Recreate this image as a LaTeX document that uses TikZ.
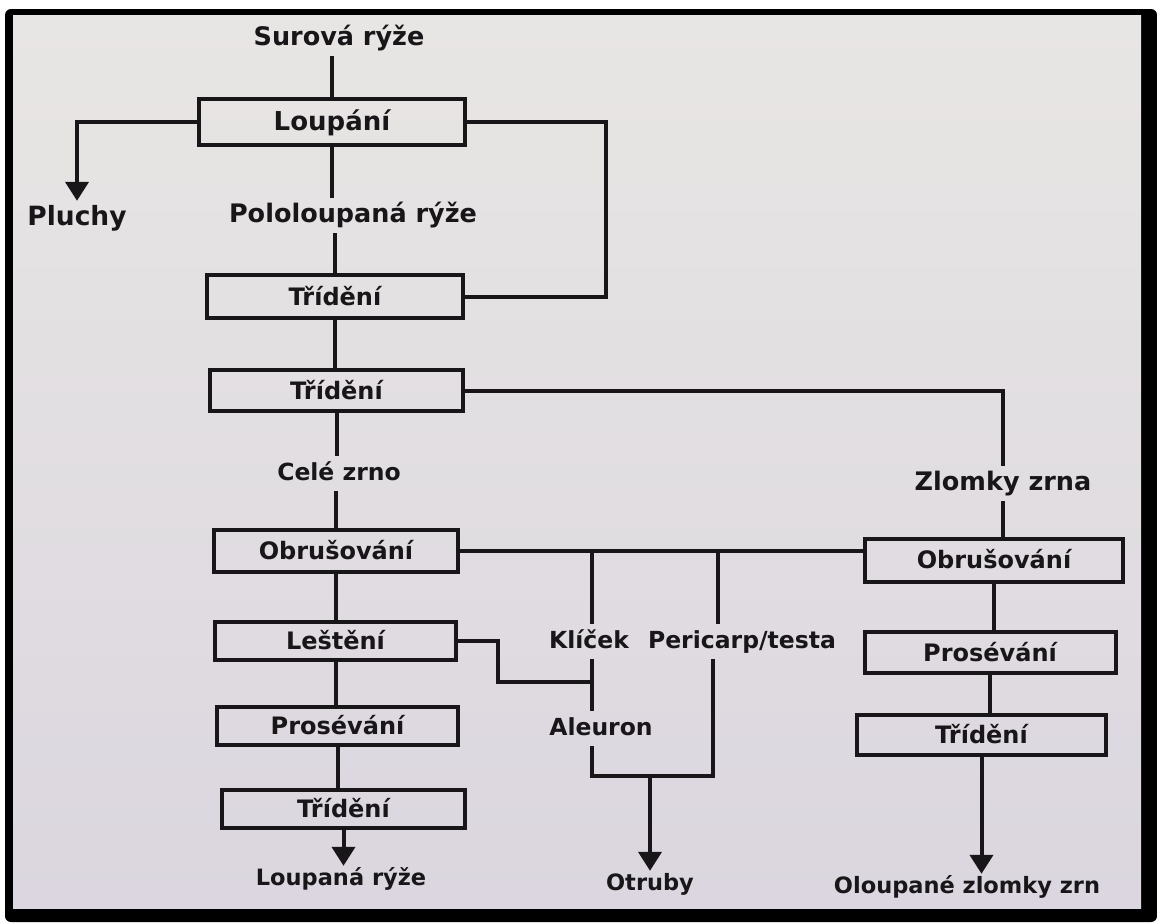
\documentclass[tikz,border=0pt]{standalone}
\usepackage{fontspec}
\setmainfont{DejaVu Sans}
\usetikzlibrary{arrows.meta}
\definecolor{ink}{RGB}{24,22,24}
\definecolor{bgtop}{RGB}{232,230,228}
\definecolor{bgbot}{RGB}{219,214,223}
\tikzset{
  ln/.style={draw=ink, line width=4pt},
  arr/.style={ln, -{Triangle[width=23pt,length=19pt]}},
  procbox/.style={draw=ink, line width=4pt, fill=none, text=ink, inner sep=0pt,
    font=\bfseries\fontsize{24}{27}\selectfont, text height=17.5pt, text depth=0pt},
  lbl/.style={text=ink, font=\bfseries\fontsize{25.5}{29}\selectfont,
    text height=18pt, text depth=5pt, inner xsep=2pt, inner ysep=6pt, anchor=base},
  smlbl/.style={lbl, font=\bfseries\fontsize{23.5}{27}\selectfont},
  endlbl/.style={text=ink, font=\bfseries\fontsize{22.5}{26}\selectfont,
    text height=15pt, text depth=4pt, inner xsep=2pt, inner ysep=4pt, anchor=base}
}
\begin{document}
\begin{tikzpicture}[x=1pt,y=-1pt]
\useasboundingbox (0,0) rectangle (1157,922);
% frame and paper
\fill[white] (0,0) rectangle (1157,922);
\fill[black, rounded corners=6pt] (5,9) rectangle (1157,922);
\shade[top color=bgtop, bottom color=bgbot] (13,15) rectangle (1141,908);

% labels
\node[lbl] (surova) at (339,45) {Surová rýže};
\node[lbl, font=\bfseries\fontsize{26.5}{29}\selectfont] (pluchy) at (77,225) {Pluchy};
\node[lbl] (polo) at (353,222) {Pololoupaná rýže};
\node[smlbl] (cele) at (339,480) {Celé zrno};
\node[lbl] (zlomky) at (1003,490) {Zlomky zrna};
\node[smlbl] (klicek) at (589,648) {Klíček};
\node[smlbl] (peri) at (742,648) {Pericarp/testa};
\node[smlbl] (aleuron) at (601,735) {Aleuron};
\node[endlbl] (loupana) at (341,885) {Loupaná rýže};
\node[endlbl] (otruby) at (650,890) {Otruby};
\node[endlbl] (olou) at (967,893) {Oloupané zlomky zrn};

% process boxes
\node[procbox, minimum width=266pt, minimum height=46pt, font=\bfseries\fontsize{26}{29}\selectfont] (loup) at (332,122) {Loupání};
\node[procbox, minimum width=256pt, minimum height=43pt] (trid1) at (335,296.5) {Třídění};
\node[procbox, minimum width=253pt, minimum height=41pt] (trid2) at (336.5,390.5) {Třídění};
\node[procbox, minimum width=244pt, minimum height=42pt] (obrL) at (336,551) {Obrušování};
\node[procbox, minimum width=241pt, minimum height=38pt] (lest) at (335.5,641) {Leštění};
\node[procbox, minimum width=241pt, minimum height=38pt] (pros) at (337.5,726) {Prosévání};
\node[procbox, minimum width=243pt, minimum height=38pt] (tridL) at (343.5,809) {Třídění};
\node[procbox, minimum width=258pt, minimum height=43pt] (obrR) at (994,560) {Obrušování};
\node[procbox, minimum width=251pt, minimum height=41pt] (prosR) at (990,652.5) {Prosévání};
\node[procbox, minimum width=249pt, minimum height=40pt] (tridR) at (981.5,735) {Třídění};

% helper coordinates
\coordinate (kx) at (592,0);
\coordinate (px) at (718,0);
\coordinate (j1) at (592,682);
\coordinate (b1) at (592,776);
\coordinate (b2) at (713,776);
\coordinate (b3) at (650,776);

% connectors
\draw[ln] (loup.north) -- (loup.north |- surova.south);
\draw[arr] (loup.west) -| (pluchy.north);
\draw[ln] (loup.east) -- ++(139,0) |- (trid1.east);
\draw[ln] (loup.south) -- (loup.south |- polo.north);
\draw[ln] (trid1.north) -- (trid1.north |- polo.south);
\draw[ln] (trid1.south) -- (trid1.south |- trid2.north);
\draw[ln] (trid2.south) -- (trid2.south |- cele.north);
\draw[ln] (obrL.north) -- (obrL.north |- cele.south);
\draw[ln] (trid2.east) -| (zlomky.north);
\draw[ln] (zlomky.south) -- (zlomky.south |- obrR.north);
\draw[ln] (obrL.east) -- (obrL.east -| obrR.west);
\draw[ln] (klicek.north -| kx) -- (obrL.east -| kx);
\draw[ln] (peri.north -| px) -- (obrL.east -| px);
\draw[ln] (obrL.south) -- (obrL.south |- lest.north);
\draw[ln] (lest.south) -- (lest.south |- pros.north);
\draw[ln] (pros.south) -- (pros.south |- tridL.north);
\draw[arr] (tridL.south) -- (tridL.south |- loupana.north);
\draw[ln] (lest.east) -- ++(40,0) |- (j1);
\draw[ln] (klicek.south -| kx) -- (aleuron.north -| kx);
\draw[ln] (aleuron.south -| kx) -- (b1) -- (b2) -- (b2 |- peri.south);
\draw[arr] (b3) -- (b3 |- otruby.north);
\draw[ln] (obrR.south) -- (obrR.south |- prosR.north);
\draw[ln] (prosR.south) -- (prosR.south |- tridR.north);
\draw[arr] (tridR.south) -- (tridR.south |- olou.north);
\end{tikzpicture}
\end{document}
